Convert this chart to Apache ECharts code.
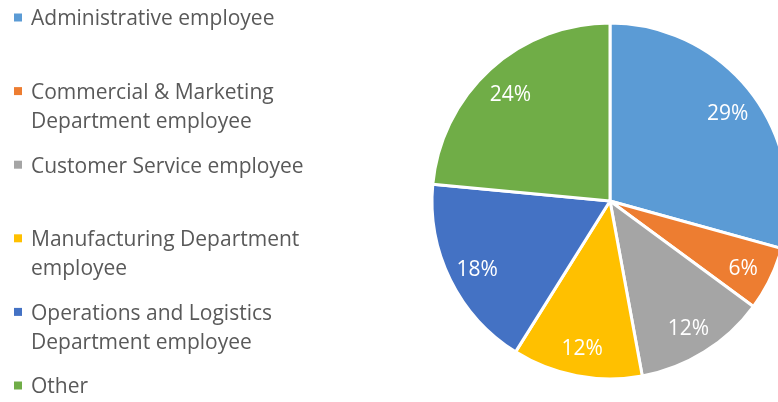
<!DOCTYPE html>
<html>
<head>
<meta charset="utf-8">
<script src="https://cdn.jsdelivr.net/npm/echarts@6/dist/echarts.min.js"></script>
<style>html,body{margin:0;padding:0;background:#fff}#c{width:778px;height:402px}</style>
</head>
<body>
<div id="c"></div>
<script>
const categories = [
  'Administrative employee',
  'Commercial & Marketing Department employee',
  'Customer Service employee',
  'Manufacturing Department employee',
  'Operations and Logistics Department employee',
  'Other'
];
const legendLines = [
  ['Administrative employee', ''],
  ['Commercial & Marketing', 'Department employee'],
  ['Customer Service employee', ''],
  ['Manufacturing Department', 'employee'],
  ['Operations and Logistics', 'Department employee'],
  ['Other', '']
];
const values = [29.3, 5.8, 12.0, 11.8, 17.6, 23.5];
const colors = ['#5B9BD5', '#ED7D31', '#A5A5A5', '#FFC000', '#4472C4', '#70AD47'];

const data = categories.map((n, i) => ({ name: n, value: values[i], itemStyle: { color: colors[i] } }));
const labelData = categories.map((n, i) => ({ name: n, value: values[i] }));

const FONT = 'Open Sans';
const rich = {
  g: { width: 9, height: 8, lineHeight: 29, verticalAlign: 'middle' },
  g2: { width: 17, height: 8, lineHeight: 29, verticalAlign: 'middle' },
  t: { fontFamily: FONT, fontSize: 21, color: '#595959', lineHeight: 29, verticalAlign: 'middle', padding: [4, 0, 0, 0] }
};
colors.forEach((c, i) => {
  rich['i' + i] = { width: 8, height: 8, backgroundColor: c, lineHeight: 29, verticalAlign: 'middle' };
});

const chart = echarts.init(document.getElementById('c'));
chart.setOption({
  animation: false,
  legend: {
    orient: 'vertical',
    left: 9,
    top: 3,
    height: 700,
    padding: 0,
    itemGap: 15.6,
    itemWidth: 0,
    itemHeight: 0,
    icon: 'rect',
    selectedMode: false,
    itemStyle: { borderWidth: 0, opacity: 0 },
    data: categories,
    formatter: name => {
      const i = categories.indexOf(name);
      const l = legendLines[i];
      return '{i' + i + '|}{g|}{t|' + l[0] + '}\n{g2|}' + (l[1] ? '{t|' + l[1] + '}' : '{t| }');
    },
    textStyle: {
      fontFamily: FONT,
      fontSize: 21,
      color: '#595959',
      lineHeight: 29,
      backgroundColor: 'rgba(0,0,0,0)',
      rich: rich
    }
  },
  series: [
    {
      type: 'pie',
      center: [610, 201],
      radius: [0, 178],
      startAngle: 90,
      clockwise: true,
      silent: true,
      label: { show: false },
      labelLine: { show: false },
      itemStyle: { borderColor: '#fff', borderWidth: 3 },
      data: data
    },
    {
      type: 'pie',
      center: [610, 201],
      radius: [112, 178],
      startAngle: 90,
      clockwise: true,
      silent: true,
      legendHoverLink: false,
      itemStyle: { color: 'rgba(0,0,0,0)', borderWidth: 0 },
      label: {
        show: true,
        position: 'inside',
        color: '#fff',
        fontFamily: FONT,
        fontSize: 21,
        offset: [0, 3],
        formatter: p => Math.round(p.percent) + '%'
      },
      labelLine: { show: false },
      data: labelData
    }
  ]
});
</script>
</body>
</html>
